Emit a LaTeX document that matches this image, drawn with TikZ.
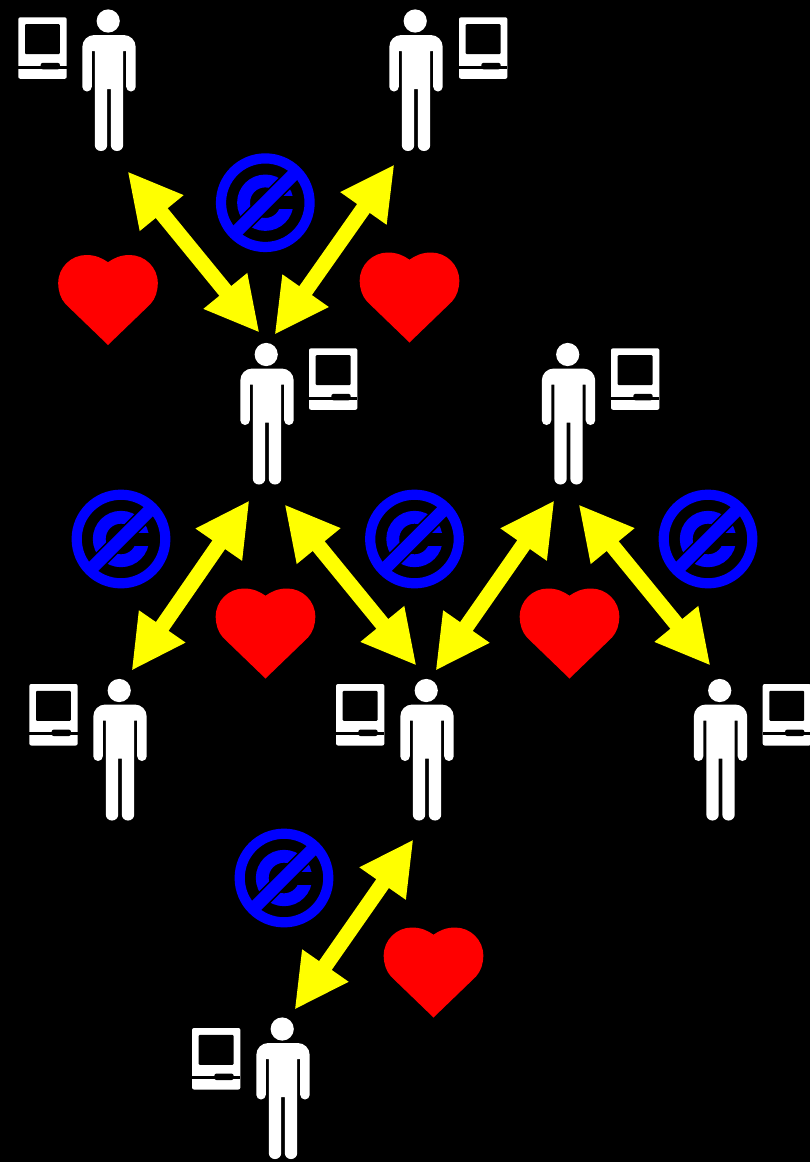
\documentclass[tikz,border=0pt]{standalone}
\usetikzlibrary{arrows.meta}
\definecolor{pdblue}{RGB}{0,0,255}
\definecolor{arrowyellow}{RGB}{255,255,0}
\definecolor{heartred}{RGB}{255,0,0}
\tikzset{
  dblarrow/.style={draw=arrowyellow,line width=15.4pt,
    {Triangle[length=54pt,width=52.5pt,fill=arrowyellow]}-{Triangle[length=54pt,width=52.5pt,fill=arrowyellow]}},
  personpic/.pic={
    \fill[white] (-0.8,0) circle[radius=11.6pt];
    \fill[white] (0,14) [rounded corners=12pt] -- (26.7,14) [rounded corners=4.7pt] -- (26.7,70.5) -- (17.2,70.5) [sharp corners] -- (17.2,30) -- (14.2,30) [rounded corners=6pt] -- (14.2,130) -- (1.8,130) [sharp corners] -- (1.8,68) -- (-1.8,68) [rounded corners=6pt] -- (-1.8,130) -- (-14.2,130) [sharp corners] -- (-14.2,30) -- (-17.2,30) [rounded corners=4.7pt] -- (-17.2,70.5) -- (-26.7,70.5) [rounded corners=12pt] -- (-26.7,14) [sharp corners] -- cycle;
  },
  computerpic/.pic={
    \fill[white,rounded corners=2pt] (0,0) rectangle (48.4,61.5);
    \fill[black,rounded corners=1pt] (6.7,6.8) rectangle (41.5,36.8);
    \fill[black] (0,48.4) rectangle (48.4,51.2);
    \fill[black,rounded corners=2pt] (22.4,45.6) rectangle (41.6,52);
  },
  heartpic/.pic={
    \fill[heartred] (0,0) -- (42.5,-41) .. controls (47.5,-46.5) and (49.8,-54) .. (49.8,-62)
      .. controls (49.8,-77.5) and (37,-90) .. (21.6,-90)
      .. controls (12.5,-90) and (6,-87) .. (0,-82.8)
      .. controls (-6,-87) and (-12.5,-90) .. (-21.6,-90)
      .. controls (-37,-90) and (-49.8,-77.5) .. (-49.8,-62)
      .. controls (-49.8,-54) and (-47.5,-46.5) .. (-42.5,-41) -- cycle;
  },
  pdpic/.pic={
    \draw[pdblue,line width=12.8pt] (0,0) circle[radius=21.75pt];
    \fill[black] (0,-6.5) rectangle (29.5,6.5);
    \draw[black,line width=16pt] (-28,28) -- (28,-28);
    \draw[pdblue,line width=12.8pt] (-34,34) -- (34,-34);
    \draw[pdblue,line width=10.2pt] (0,0) circle[radius=44.3pt];
  }
}
\begin{document}
\begin{tikzpicture}[x=1pt,y=-1pt]
\useasboundingbox (0,0) rectangle (810,1162);
\fill[black] (0,0) rectangle (810,1162);
% computers
\pic (c1) at (18.3,17.3) {computerpic};
\pic (c2) at (459,17.3) {computerpic};
\pic (c3) at (309,348.3) {computerpic};
\pic (c4) at (611,348.3) {computerpic};
\pic (c5) at (29.3,684) {computerpic};
\pic (c6) at (336,684) {computerpic};
\pic (c7) at (762.7,684) {computerpic};
\pic (c8) at (192,1028) {computerpic};
% people
\pic (p1) at (109,21) {personpic};
\pic (p2) at (416,21) {personpic};
\pic (p3) at (267,354.5) {personpic};
\pic (p4) at (568.5,354.5) {personpic};
\pic (p5) at (120,690.5) {personpic};
\pic (p6) at (427,690.5) {personpic};
\pic (p7) at (720.5,690.5) {personpic};
\pic (p8) at (283,1029) {personpic};
% hearts
\pic (h1) at (108,345) {heartpic};
\pic (h2) at (409.5,342.5) {heartpic};
\pic (h3) at (265.5,678.5) {heartpic};
\pic (h4) at (569.5,678.5) {heartpic};
\pic (h5) at (433.5,1017.5) {heartpic};
% public domain marks
\pic (d1) at (265.3,202.7) {pdpic};
\pic (d2) at (121,539) {pdpic};
\pic (d3) at (414.5,539) {pdpic};
\pic (d4) at (708,539) {pdpic};
\pic (d5) at (284,878) {pdpic};
% arrows
\coordinate (a1s) at (127.5,171.3);  \coordinate (a1e) at (259.5,332.7);
\coordinate (a2s) at (394.5,164.3);  \coordinate (a2e) at (274.5,334.8);
\coordinate (a3s) at (249.5,500.3);  \coordinate (a3e) at (131.5,670.8);
\coordinate (a4s) at (284.5,504.3);  \coordinate (a4e) at (416.5,665.7);
\coordinate (a5s) at (554.5,500.3);  \coordinate (a5e) at (435.5,670.8);
\coordinate (a6s) at (578.5,504.3);  \coordinate (a6e) at (710.5,665.7);
\coordinate (a7s) at (413.5,839.3);  \coordinate (a7e) at (294.5,1009.8);
\draw[dblarrow] (a1s) -- (a1e);
\draw[dblarrow] (a2s) -- (a2e);
\draw[dblarrow] (a3s) -- (a3e);
\draw[dblarrow] (a4s) -- (a4e);
\draw[dblarrow] (a5s) -- (a5e);
\draw[dblarrow] (a6s) -- (a6e);
\draw[dblarrow] (a7s) -- (a7e);
\end{tikzpicture}
\end{document}
